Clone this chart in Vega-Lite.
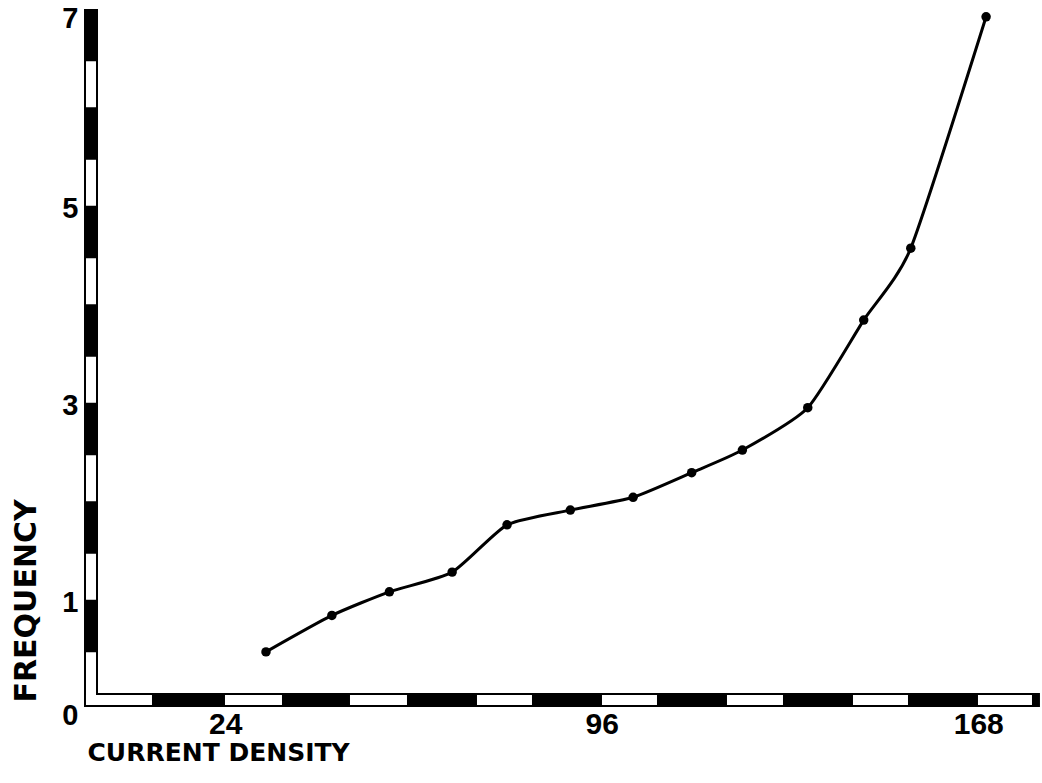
{
  "$schema": "https://vega.github.io/schema/vega-lite/v6.json",
  "width": 957,
  "height": 704,
  "autosize": {"type": "none"},
  "padding": {"left": 84, "top": 4, "right": 1, "bottom": 75},
  "background": "white",
  "config": {"view": {"stroke": null}},
  "datasets": {
    "curve": [
      {"current_density": 31.8, "frequency": 0.47},
      {"current_density": 44.4, "frequency": 0.84},
      {"current_density": 55.4, "frequency": 1.08},
      {"current_density": 67.4, "frequency": 1.28},
      {"current_density": 77.9, "frequency": 1.76},
      {"current_density": 90.0, "frequency": 1.91},
      {"current_density": 102.0, "frequency": 2.04},
      {"current_density": 113.2, "frequency": 2.29},
      {"current_density": 122.9, "frequency": 2.52},
      {"current_density": 135.4, "frequency": 2.95},
      {"current_density": 146.1, "frequency": 3.84},
      {"current_density": 155.1, "frequency": 4.57},
      {"current_density": 169.5, "frequency": 6.92}
    ]
  },
  "layer": [
    {
      "data": {"name": "curve"},
      "mark": {"type": "line", "interpolate": "cardinal", "tension": 0.4, "color": "black", "strokeWidth": 3},
      "encoding": {
        "x": {
          "field": "current_density",
          "type": "quantitative",
          "scale": {"domain": [-3, 180], "nice": false, "zero": false},
          "axis": {
            "title": "CURRENT DENSITY",
            "values": [24, 96, 168],
            "format": "d",
            "domain": false,
            "ticks": false,
            "tickSize": 0,
            "grid": false,
            "labelFont": "Liberation Sans",
            "labelFontSize": 30,
            "labelFontWeight": "bold",
            "labelColor": "black",
            "labelPadding": 1,
            "labelFlush": false,
            "labelOverlap": false,
            "titleFont": "DejaVu Sans",
            "titleFontSize": 25,
            "titleFontWeight": "bold",
            "titleColor": "black",
            "titleAlign": "left",
            "titleAnchor": "start",
            "titleBaseline": "top",
            "titleX": 3,
            "titleY": 32
          }
        },
        "y": {
          "field": "frequency",
          "type": "quantitative",
          "scale": {"domain": [-0.1, 7.05], "nice": false, "zero": false},
          "axis": {
            "title": "FREQUENCY",
            "values": [0, 1, 3, 5, 7],
            "format": "d",
            "domain": false,
            "ticks": false,
            "tickSize": 0,
            "grid": false,
            "labelFont": "Liberation Sans",
            "labelFontSize": 29,
            "labelFontWeight": "bold",
            "labelColor": "black",
            "labelPadding": 6,
            "labelOffset": {"condition": {"test": "datum.value === 7", "value": 10}, "value": 3},
            "labelBaseline": {"condition": {"test": "datum.value === 0", "value": "top"}, "value": "middle"},
            "labelFlush": false,
            "labelOverlap": false,
            "titleFont": "DejaVu Sans",
            "titleFontSize": 30,
            "titleFontWeight": "bold",
            "titleColor": "black",
            "titleAngle": 270,
            "titleAlign": "left",
            "titleBaseline": "bottom",
            "titleX": -43,
            "titleY": 698
          }
        }
      }
    },
    {
      "data": {"values": [{}]},
      "mark": {"type": "rule", "color": "black", "strokeWidth": 14, "strokeCap": "butt"},
      "encoding": {
        "x": {"datum": -1.66, "type": "quantitative"},
        "y": {"datum": -0.09, "type": "quantitative"},
        "y2": {"datum": 7.0}
      }
    },
    {
      "data": {"values": [{}]},
      "mark": {"type": "rule", "color": "black", "strokeWidth": 14, "strokeCap": "butt"},
      "encoding": {
        "x": {"datum": -2.98, "type": "quantitative"},
        "x2": {"datum": 179.8},
        "y": {"datum": -0.019, "type": "quantitative"}
      }
    },
    {
      "data": {"values": [{}]},
      "mark": {"type": "rule", "color": "white", "strokeWidth": 10, "strokeCap": "butt", "strokeDash": [66, 73, 57, 68, 57, 70, 55, 70, 55, 70, 56, 70, 55, 70, 54, 40]},
      "encoding": {
        "x": {"datum": -2.62, "type": "quantitative"},
        "x2": {"datum": 179.4},
        "y": {"datum": -0.019, "type": "quantitative"}
      }
    },
    {
      "data": {"values": [{}]},
      "mark": {"type": "rule", "color": "white", "strokeWidth": 10, "strokeCap": "butt", "strokeDash": [46, 52.5]},
      "encoding": {
        "x": {"datum": -1.66, "type": "quantitative"},
        "y": {"datum": 0, "type": "quantitative"},
        "y2": {"datum": 6.978}
      }
    },
    {
      "data": {"name": "curve"},
      "mark": {"type": "circle", "color": "black", "size": 90, "opacity": 1},
      "encoding": {
        "x": {"field": "current_density", "type": "quantitative"},
        "y": {"field": "frequency", "type": "quantitative"}
      }
    }
  ]
}
